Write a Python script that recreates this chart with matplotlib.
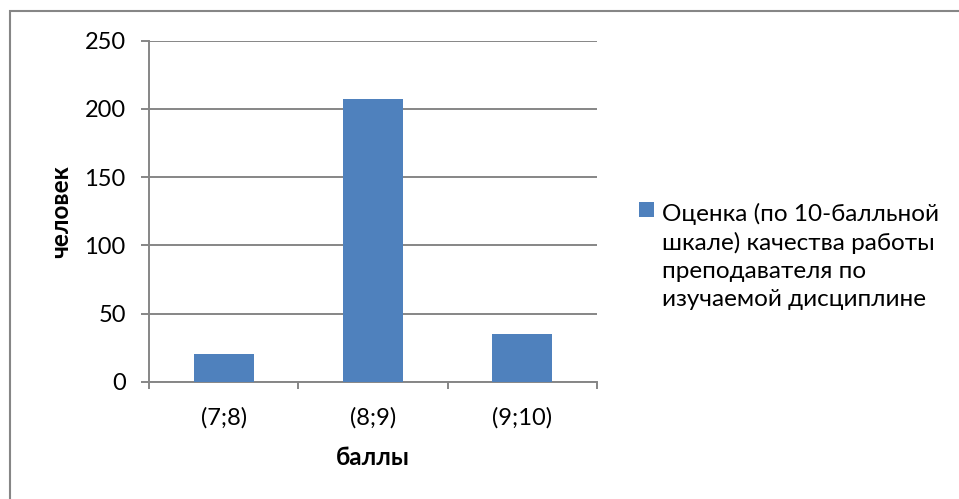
import matplotlib
matplotlib.use('Agg')
import matplotlib.pyplot as plt
from matplotlib.patches import Rectangle

categories = ['(7;8)', '(8;9)', '(9;10)']
values = [20, 207, 35]
series_label = 'Оценка (по 10-балльной\nшкале) качества работы\nпреподавателя по\nизучаемой дисциплине'
y_ticks = [0, 50, 100, 150, 200, 250]

plt.rcParams['font.family'] = ['Lato', 'DejaVu Sans']
grey = '#868686'
bar_color = '#4F81BD'
W, H = 959, 499

fig = plt.figure(figsize=(W / 100, H / 100), dpi=100)
# внешняя рамка области диаграммы
fig.patches.append(Rectangle((9.5 / W, -0.1), 1.2, 1 - 11 / H + 0.1,
                             transform=fig.transFigure, fill=False,
                             edgecolor=grey, linewidth=1.5))

ax = fig.add_axes([149.3 / W, 1 - 381.7 / H, 447.4 / W, 341 / H])
x = range(len(categories))
ax.bar(x, values, width=0.4, color=bar_color, zorder=3)

ax.set_xlim(-0.5, len(categories) - 0.5)
ax.set_ylim(0, 250)
ax.set_yticks(y_ticks)
ax.yaxis.grid(True, color=grey, linewidth=1.4, zorder=0)
ax.set_xticks(list(x))
ax.set_xticklabels(categories)
ax.set_xticks([i - 0.5 for i in range(len(categories) + 1)], minor=True)

for s in ['top', 'right']:
    ax.spines[s].set_visible(False)
for s in ['left', 'bottom']:
    ax.spines[s].set_color(grey)
    ax.spines[s].set_linewidth(1.4)

ax.tick_params(axis='y', length=6, width=1.4, color=grey, pad=11, labelsize=17)
ax.tick_params(axis='x', which='major', length=0, pad=18, labelsize=17)
ax.tick_params(axis='x', which='minor', length=5, width=1.4, color=grey)

ax.set_xlabel('баллы', fontsize=17.5, fontweight='bold', labelpad=13)
ax.set_ylabel('человек', fontsize=17.5, fontweight='bold')
ax.yaxis.set_label_coords(-0.172, 0.5)

# легенда: квадрат выровнен по первой строке подписи
fig.patches.append(Rectangle((639 / W, 1 - 217 / H), 15 / W, 15 / H,
                             transform=fig.transFigure, facecolor=bar_color,
                             edgecolor='none'))
# для многострочного текста baseline = базовая линия последней строки
fig.text(662 / W, 1 - 306 / H, series_label, fontsize=17.5, va='baseline',
         ha='left', linespacing=1.4)

plt.savefig('out.png', dpi=100)
